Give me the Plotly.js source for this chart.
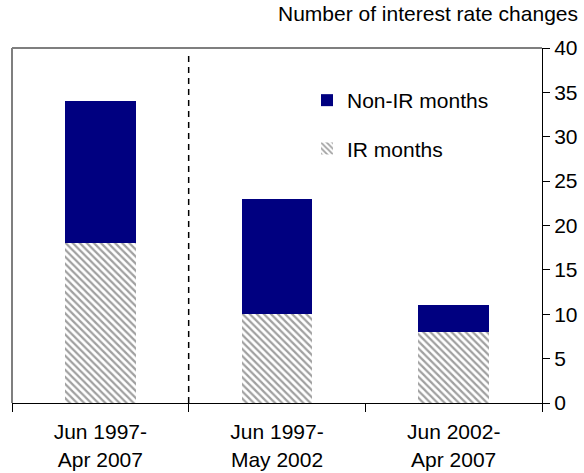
<!DOCTYPE html>
<html>
<head>
<meta charset="utf-8">
<script src="https://cdn.plot.ly/plotly-3.0.1.min.js"></script>
<style>html,body{margin:0;padding:0;background:#fff;}#chart{width:584px;height:473px;}</style>
</head>
<body>
<div id="chart"></div>
<script>
// Data
const categories = ["Jun 1997-<br>Apr 2007", "Jun 1997-<br>May 2002", "Jun 2002-<br>Apr 2007"];
const irMonths = [18, 10, 8];
const nonIrMonths = [16, 13, 3];
const yTickVals = [0, 5, 10, 15, 20, 25, 30, 35, 40];
const dividerTop = 39.2;

const FONT = "'Liberation Sans', Arial, sans-serif";

const traces = [
  {
    type: "bar",
    name: "IR months",
    x: categories,
    y: irMonths,
    legendgroup: "ir",
    legendrank: 2,
    marker: {
      color: "#ffffff",
      line: {width: 0},
      pattern: {shape: "\\", fgcolor: "#a0a0a0", bgcolor: "#ffffff", size: 5, solidity: 0.45}
    },
    hoverinfo: "skip"
  },
  {
    type: "bar",
    name: "Non-IR months",
    x: categories,
    y: nonIrMonths,
    legendgroup: "non",
    legendrank: 1,
    marker: {color: "#000080", line: {width: 0}},
    hoverinfo: "skip"
  }
];

const layout = {
  width: 584,
  height: 473,
  margin: {l: 12, r: 42, t: 48, b: 70, pad: 0},
  paper_bgcolor: "#ffffff",
  plot_bgcolor: "#ffffff",
  font: {family: FONT, size: 21, color: "#000000"},
  barmode: "stack",
  bargap: 0.6,
  showlegend: true,
  legend: {
    x: (307 - 12) / 530, xanchor: "left",
    y: (403 - 80) / 355, yanchor: "top",
    traceorder: "grouped",
    tracegroupgap: 18,
    bgcolor: "rgba(0,0,0,0)",
    borderwidth: 0,
    font: {family: FONT, size: 21, color: "#000000"},
    itemclick: false
  },
  title: {
    text: "Number of interest rate changes",
    font: {family: FONT, size: 21, color: "#000000"},
    xref: "container", x: 578 / 584, xanchor: "right",
    yref: "container", y: 1 - 14 / 473, yanchor: "middle"
  },
  xaxis: {
    type: "category",
    showgrid: false,
    zeroline: false,
    showline: true,
    linecolor: "#000000",
    linewidth: 1,
    ticks: "outside",
    tickson: "boundaries",
    ticklen: 8,
    tickcolor: "#000000",
    tickwidth: 1,
    ticklabelstandoff: 10,
    tickfont: {family: FONT, size: 21, color: "#000000"},
    fixedrange: true
  },
  yaxis: {
    side: "right",
    range: [0, 40],
    tickvals: yTickVals,
    ticktext: yTickVals.map(String),
    showgrid: false,
    zeroline: false,
    showline: true,
    linecolor: "#000000",
    linewidth: 1,
    ticks: "outside",
    ticklen: 7,
    tickcolor: "#000000",
    tickwidth: 1,
    tickfont: {family: FONT, size: 21, color: "#000000"},
    fixedrange: true
  },
  shapes: [
    {type: "line", xref: "paper", yref: "paper", x0: 0, x1: 1, y0: 1, y1: 1,
     line: {color: "#7f7f7f", width: 2}},
    {type: "line", xref: "paper", yref: "paper", x0: 0, x1: 0, y0: 0, y1: 1,
     line: {color: "#7f7f7f", width: 2}},
    {type: "line", xref: "x", yref: "y", x0: 0.5, x1: 0.5, y0: 0, y1: dividerTop,
     line: {color: "#000000", width: 1.5, dash: "6px,5px"}}
  ]
};

Plotly.newPlot("chart", traces, layout, {displayModeBar: false, staticPlot: true});
</script>
</body>
</html>
